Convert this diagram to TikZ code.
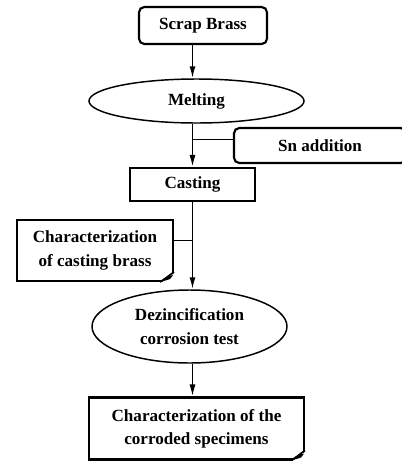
\documentclass[tikz,border=0pt]{standalone}
\usepackage{fontspec}
\setmainfont{Liberation Serif}
\usetikzlibrary{shapes.geometric,arrows.meta}

\tikzset{
	every picture/.style={line width=0.75pt},
	flowtext/.style={font=\fontsize{12.8}{17.5}\selectfont\bfseries, align=center, inner sep=0pt},
	roundbox/.style={flowtext, draw, line width=1.6pt, rounded corners=4pt},
	plainbox/.style={flowtext, draw, line width=1.6pt},
	flowoval/.style={flowtext, draw, ellipse, line width=1.1pt},
	link/.style={line width=1.2pt},
	linkarrow/.style={link, -{Latex[length=9pt,width=4.5pt]}}
}

% little curled corner, bottom right of a box
\newcommand{\dogear}[1]{%
	\begin{scope}[shift={(#1.south east)}]
		\fill[white] (-14,1.5) -- (1.5,1.5) -- (1.5,-10) -- cycle;
		\draw[line width=1.2pt] (-14,0) .. controls (-9,-3) and (-5,-7) .. (0,-10);
		\fill (-14,0) .. controls (-10,-5) and (-6,-6) .. (-1,-7) -- (-4,-3) -- cycle;
	\end{scope}}

\begin{document}
\begin{tikzpicture}[x=0.75pt,y=0.75pt,yscale=-1,xscale=1]
		\useasboundingbox (0,0) rectangle (402,461);
		\clip (0,0) rectangle (402,461);

		%Shape: Rounded Rect
		\node[roundbox, minimum width=128*0.75pt, minimum height=37*0.75pt] (scrap) at (203,25.5) {Scrap Brass};
		%Shape: Ellipse
		\node[flowoval, minimum width=215*0.75pt, minimum height=44*0.75pt] (melt) at (196.5,101) {Melting};
		%Shape: Rounded Rect (runs off the right edge)
		\node[roundbox, minimum width=172*0.75pt, minimum height=35*0.75pt] (snadd) at (320,145.5) {Sn addition};
		%Shape: Rectangle
		\node[plainbox, minimum width=125*0.75pt, minimum height=33*0.75pt] (cast) at (192.5,184.5) {Casting};
		%Shape: Rectangle with folded corner
		\node[plainbox, minimum width=156*0.75pt, minimum height=61*0.75pt] (charcast) at (95,250.5) {Characterization\\of casting brass};
		\dogear{charcast}
		%Shape: Ellipse
		\node[flowoval, minimum width=195*0.75pt, minimum height=73*0.75pt] (dezinc) at (189.5,326.5) {Dezincification\\corrosion test};
		%Shape: Rectangle with folded corner
		\node[plainbox, minimum width=215*0.75pt, minimum height=62*0.75pt] (charcorr) at (196.5,428.5) {Characterization of the\\corroded specimens};
		\dogear{charcorr}

		%Straight Lines
		\draw[linkarrow] (scrap.south -| cast.north) -- (melt.north -| cast.north);
		\draw[linkarrow] (melt.south -| cast.north) -- (cast.north);
		\draw[link] ([yshift=-4.5pt]snadd.west) -- ([yshift=-4.5pt]snadd.west -| cast.north);
		\draw[linkarrow] (cast.south) -- (dezinc.north -| cast.south);
		\draw[link] ([yshift=-7.5pt]charcast.east) -- ([yshift=-7.5pt]charcast.east -| cast.south);
		\draw[linkarrow] (dezinc.south -| cast.south) -- (charcorr.north -| cast.south);

		\end{tikzpicture}
\end{document}
